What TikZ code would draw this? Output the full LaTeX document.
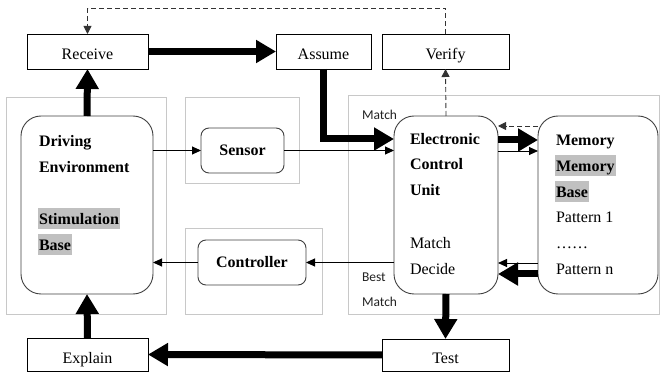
\documentclass[tikz,border=0pt]{standalone}
\usepackage{fontspec}
\setmainfont{Liberation Serif}
\newfontfamily\labelfont{Carlito}
\usetikzlibrary{arrows.meta,calc}

\definecolor{framegray}{HTML}{C8C8C8}
\definecolor{boxedge}{HTML}{404040}
\definecolor{hlgray}{HTML}{C0C0C0}
\definecolor{labelink}{HTML}{222222}

\begin{document}
\begin{tikzpicture}[x=1pt,y=-1pt,
  every node/.style={inner sep=0pt, outer sep=0pt},
  frame/.style={draw=framegray, line width=0.8pt},
  stage/.style={draw=black, line width=0.9pt, fill=white,
                text height=17pt, text depth=0pt,
                font=\fontsize{16}{19}\selectfont},
  unit/.style={draw=boxedge, line width=0.9pt, rounded corners=20pt, fill=white},
  smallunit/.style={draw=boxedge, line width=0.9pt, rounded corners=8pt, fill=white,
                    font=\fontsize{16}{19}\selectfont\bfseries},
  rline/.style={anchor=base west, font=\fontsize{16}{19}\selectfont},
  bline/.style={anchor=base west, font=\fontsize{16}{19}\selectfont\bfseries},
  hl/.style={fill=hlgray, inner xsep=1pt, text height=17pt, text depth=4pt},
  tag/.style={anchor=base west, text=labelink, font=\labelfont\fontsize{13.5}{16}\selectfont},
  bigarrow/.style={line width=7pt, line join=miter, -{Triangle[length=20pt,width=22pt]}},
  thinarrow/.style={line width=0.9pt, -{Triangle[length=9pt,width=8pt]}},
  dasharrow/.style={line width=0.9pt, draw=black!80, dash pattern=on 5pt off 3pt,
                    -{Triangle[length=8pt,width=8pt]}}
]
\useasboundingbox (0,0) rectangle (662,374);

% grey grouping frames
\draw[frame] (6,97) rectangle (166,314);
\draw[frame] (185,97) rectangle (299,183);
\draw[frame] (185,228) rectangle (322,314);
\draw[frame] (348,95) rectangle (659,314);

% process stages
\node[stage, minimum width=121pt, minimum height=35pt] (rcv) at (87.5,51.5) {Receive};
\node[stage, minimum width=95pt,  minimum height=35pt] (asm) at (323.5,51.5) {Assume};
\node[stage, minimum width=127pt, minimum height=35pt] (ver) at (445.5,51.5) {Verify};
\node[stage, minimum width=121pt, minimum height=33pt] (exp) at (87.5,354.5) {Explain};
\node[stage, minimum width=127pt, minimum height=32pt] (tst) at (445.5,355) {Test};

% system units
\node[unit, minimum width=132pt, minimum height=178pt] (drv) at (87,205) {};
\node[unit, minimum width=104pt, minimum height=178pt] (ecu) at (446,205) {};
\node[unit, minimum width=120pt, minimum height=178pt] (mem) at (598,205) {};
\node[smallunit, minimum width=83pt,  minimum height=45pt] (sen) at (242.5,150.5) {Sensor};
\node[smallunit, minimum width=108pt, minimum height=45pt] (ctl) at (252,262.5) {Controller};

% driving environment contents
\node[bline] (drv1) at (39,147) {Driving};
\node[bline] (drv2) at (39,173) {Environment};
\node[bline, hl] (drv3) at (38,225) {Stimulation};
\node[bline, hl] (drv4) at (38,251) {Base};

% electronic control unit contents
\node[bline] (ecu1) at (410,145) {Electronic};
\node[bline] (ecu2) at (410,170) {Control};
\node[bline] (ecu3) at (410,196) {Unit};
\node[rline] (ecu4) at (410,249) {Match};
\node[rline] (ecu5) at (410,275) {Decide};

% memory contents
\node[bline] (mem1) at (556,146) {Memory};
\node[bline, hl] (mem2) at (555,172) {Memory};
\node[bline, hl] (mem3) at (555,198) {Base};
\node[rline] (mem4) at (556,223) {Pattern 1};
\node[rline] (mem5) at (556,249) {……};
\node[rline] (mem6) at (556,275) {Pattern n};

% small labels
\node[tag] (lmatch) at (362,120) {Match};
\node[tag] (lbest) at (362,282) {Best};
\node[tag] (lbestm) at (362,307) {Match};

% main flow
\draw[bigarrow] (drv.north) -- (rcv.south);
\draw[bigarrow] (rcv.east) -- (asm.west);
\draw[bigarrow] (asm.south) |- ($(ecu.north west)+(0,23)$);
\draw[bigarrow] (ecu.south) -- (tst.north);
\draw[bigarrow] (tst.west) -- (exp.east);
\draw[bigarrow] (exp.north) -- (drv.south);

% signal paths
\draw[thinarrow] (sen.west -| drv.east) -- (sen.west);
\draw[thinarrow] (sen.east) -- (sen.east -| ecu.west);
\draw[thinarrow] (ctl.east -| ecu.west) -- (ctl.east);
\draw[thinarrow] (ctl.west) -- (ctl.west -| drv.east);

% exchange with memory
\draw[bigarrow] ($(ecu.north east)+(0,24)$) -- ($(mem.north west)+(0,24)$);
\draw[thinarrow] ($(ecu.north east)+(0,35)$) -- ($(mem.north west)+(0,35)$);
\draw[dasharrow] ($(mem.north west)+(0,10)$) -- ($(ecu.north east)+(0,10)$);
\draw[thinarrow] ($(mem.south west)+(0,-31)$) -- ($(ecu.south east)+(0,-31)$);
\draw[bigarrow] ($(mem.south west)+(0,-20)$) -- ($(ecu.south east)+(0,-20)$);

% verification feedback
\draw[dasharrow] (ecu.north) -- (ver.south);
\draw[dasharrow] (ver.north) -- ++(0,-26) -| (rcv.north);
\end{tikzpicture}
\end{document}
